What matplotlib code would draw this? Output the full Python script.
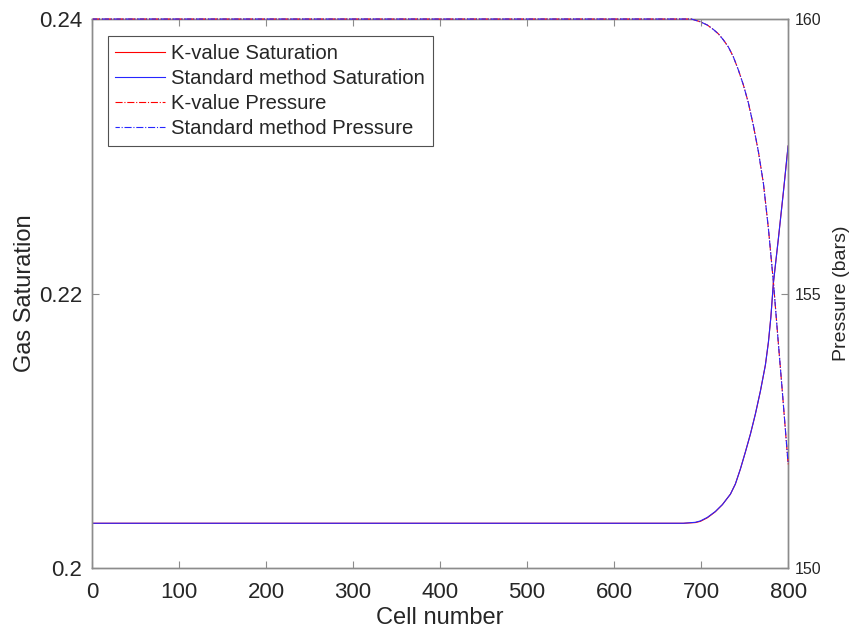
import matplotlib
matplotlib.use("Agg")
import matplotlib.pyplot as plt

plt.rcParams["font.family"] = ["Liberation Sans", "DejaVu Sans"]

# Gas saturation profile along the grid (cell index -> saturation)
sat_cells = [1, 679.7, 693.4, 699.2, 707.2, 716.4, 724.5, 733.7, 739.4, 745.2,
             750.9, 756.7, 762.4, 768.2, 773.9, 777.4, 780.2, 783.1, 788.9,
             794.6, 800]
sat_kvalue = [0.20326, 0.20326, 0.20331, 0.20340, 0.20366, 0.20410, 0.20462,
              0.20538, 0.20612, 0.20722, 0.20845, 0.20976, 0.21122, 0.21290,
              0.21479, 0.21647, 0.21829, 0.22077, 0.22404, 0.22740, 0.23075]
sat_standard = [0.20326, 0.20326, 0.20333, 0.20343, 0.20369, 0.20412, 0.20462,
                0.20538, 0.20612, 0.20722, 0.20845, 0.20976, 0.21122, 0.21290,
                0.21479, 0.21647, 0.21829, 0.22077, 0.22404, 0.22740, 0.23075]

# Pressure profile (bars)
p_cells = [1, 688.9, 699.2, 707.2, 714.1, 719.9, 725.6, 731.4, 737.1, 742.9,
           748.6, 754.4, 760.1, 765.9, 771.6, 777.4, 783.1, 788.3, 793.4, 800]
p_kvalue = [160.0, 160.0, 159.95, 159.89, 159.81, 159.73, 159.62, 159.49,
            159.31, 159.07, 158.80, 158.47, 158.06, 157.58, 157.01, 156.18,
            155.21, 154.19, 153.21, 151.89]
p_standard = [160.0, 160.0, 159.95, 159.89, 159.81, 159.73, 159.62, 159.49,
              159.31, 159.07, 158.80, 158.47, 158.06, 157.58, 157.01, 156.18,
              155.21, 154.19, 153.21, 151.91]

sat_ticks = [0.2, 0.22, 0.24]
sat_labels = ["0.2", "0.22", "0.24"]
p_ticks = [150, 155, 160]
x_ticks = [0, 100, 200, 300, 400, 500, 600, 700, 800]

txt = "#262626"
edge = "#8c8c8c"
red = "#ff0000"
blue = "#2626ff"
dashdot = (6.4, 1.6, 1.0, 1.6)

fig = plt.figure(figsize=(8.52, 6.30), dpi=100)
ax = fig.add_axes([0.108, 0.0984, 0.817, 0.8714])
ax2 = ax.twinx()

l1, = ax.plot(sat_cells, sat_kvalue, "-", color=red, lw=0.8)
l2, = ax.plot(sat_cells, sat_standard, "-", color=blue, lw=0.8)
l3, = ax2.plot(p_cells, p_kvalue, color=red, lw=0.8, ls=(0, dashdot),
               clip_on=False, zorder=3)
# shifted dash phase so the red curve shows through the gaps
l4, = ax2.plot(p_cells, p_standard, color=blue, lw=0.8, ls=(2.5, dashdot),
               clip_on=False, zorder=3)

ax.set_xlim(0, 800)
ax.set_ylim(0.2, 0.24)
ax2.set_ylim(150, 160)
ax.set_xticks(x_ticks)
ax.set_yticks(sat_ticks)
ax.set_yticklabels(sat_labels)
ax2.set_yticks(p_ticks)

ax.tick_params(axis="x", direction="in", top=True, length=5, width=0.8,
               color=edge, labelsize=16, labelcolor=txt, pad=10)
ax.tick_params(axis="y", direction="in", length=5, width=0.8,
               color=edge, labelsize=16, labelcolor=txt, pad=7)
ax2.tick_params(axis="y", direction="in", length=5, width=0.8,
                color=edge, labelsize=11.5, labelcolor=txt, pad=5)

for a in (ax, ax2):
    for s in a.spines.values():
        s.set_color(edge)
        s.set_linewidth(1.0)

ax.set_xlabel("Cell number", fontsize=17, color=txt, labelpad=3)
ax.set_ylabel("Gas Saturation", fontsize=17, color=txt, labelpad=2)
ax2.set_ylabel("Pressure (bars)", fontsize=14, color=txt, labelpad=8)

leg = ax2.legend([l1, l2, l3, l4],
                 ["K-value Saturation", "Standard method Saturation",
                  "K-value Pressure", "Standard method Pressure"],
                 loc="upper left", bbox_to_anchor=(0.0226, 0.969),
                 fontsize=14.6, frameon=True, fancybox=False,
                 handlelength=2.45, handletextpad=0.3, labelspacing=0.3,
                 borderpad=0.38, borderaxespad=0)
leg.get_frame().set_edgecolor("#262626")
leg.get_frame().set_linewidth(0.8)
for t in leg.get_texts():
    t.set_color(txt)

fig.savefig("out.png", dpi=100)
